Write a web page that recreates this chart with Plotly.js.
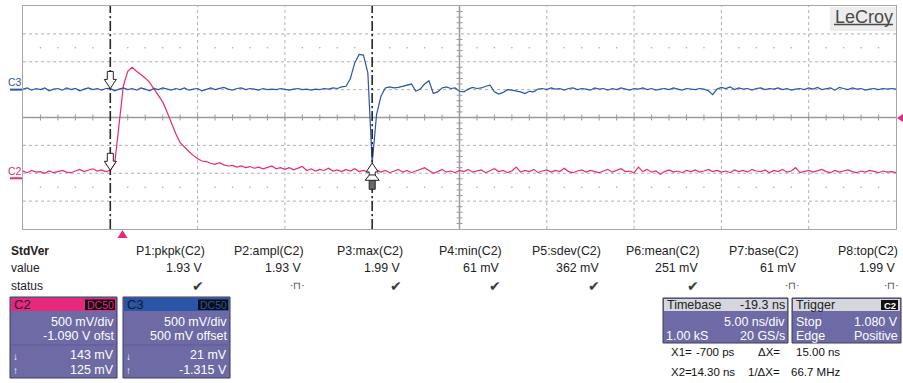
<!DOCTYPE html>
<html><head><meta charset="utf-8">
<script src="https://cdn.plot.ly/plotly-3.0.1.min.js"></script>
<style>html,body{margin:0;padding:0;background:#fff;overflow:hidden}#chart{width:903px;height:383px}</style>
</head><body><div id="chart"></div>
<script>
// ---- acquisition (timebase 5 ns/div, delay -19.3 ns -> left edge -5.7 ns)
const T_START = -5.7;      // ns
const T_STEP = 0.25;       // ns between plotted samples
const NS_PER_DIV = 5;
const V_PER_DIV = 0.5;
const C2_OFFSET = -1.09;
const C3_OFFSET = 0.5;

// C2 (pink) volts
const c2Volts = [
0.13,0.10,0.14,0.11,0.12,0.09,0.13,0.10,0.12,0.14,
0.11,0.10,0.13,0.16,0.12,0.15,0.17,0.13,0.15,0.12,
0.143,0.26,0.95,1.66,1.92,1.99,1.92,1.86,1.80,1.72,
1.61,1.50,1.37,1.19,0.98,0.80,0.64,0.55,0.48,0.41,
0.35,0.31,0.30,0.27,0.25,0.28,0.24,0.22,0.23,0.20,
0.22,0.19,0.21,0.18,0.20,0.17,0.19,0.22,0.17,0.19,
0.16,0.19,0.15,0.18,0.21,0.14,0.17,0.13,0.16,0.14,
0.18,0.13,0.15,0.12,0.16,0.13,0.17,0.12,0.14,0.11,
0.125,0.15,0.11,0.14,0.10,0.13,0.16,0.11,0.14,0.10,
0.13,0.15,0.19,0.14,0.09,0.12,0.16,0.11,0.13,0.10,
0.14,0.12,0.16,0.11,0.13,0.15,0.10,0.13,0.17,0.12,
0.14,0.10,0.13,0.20,0.11,0.14,0.12,0.16,0.10,0.13,
0.15,0.11,0.14,0.12,0.18,0.12,0.10,0.13,0.15,0.11,
0.14,0.12,0.10,0.13,0.16,0.11,0.14,0.17,0.12,0.13,
0.10,0.20,0.12,0.16,0.11,0.13,0.07,0.12,0.15,0.11,
0.13,0.10,0.14,0.12,0.15,0.11,0.13,0.16,0.12,0.14,
0.11,0.13,0.10,0.15,0.12,0.14,0.11,0.16,0.13,0.12,
0.15,0.10,0.14,0.12,0.16,0.11,0.13,0.19,0.10,0.12,
0.14,0.11,0.13,0.16,0.12,0.10,0.14,0.11,0.13,0.15,
0.12,0.10,0.13,0.11,0.14,0.12,0.10,0.13,0.11,0.12,
0.10];

// C3 (blue) volts
const c3Volts = [
0.01,0.03,-0.01,0.02,0.00,0.03,-0.02,0.01,0.02,-0.01,
0.03,0.00,0.02,-0.02,0.01,0.03,0.00,0.02,-0.01,0.02,
0.021,-0.02,0.01,0.03,0.00,0.02,-0.01,0.03,0.01,-0.02,
0.02,0.00,0.03,0.01,-0.01,0.02,0.00,0.03,-0.01,0.01,
0.02,-0.02,0.01,0.03,0.00,0.02,0.04,0.01,-0.01,0.02,
0.03,0.00,0.02,0.01,-0.01,0.02,0.00,0.01,0.00,0.02,
0.01,-0.01,0.01,0.02,0.00,0.01,-0.01,0.01,0.00,0.02,
0.01,0.03,0.02,0.05,0.06,0.20,0.48,0.63,0.62,0.30,
-1.315,-0.45,-0.12,0.03,0.05,0.03,0.04,0.06,0.08,0.10,
-0.03,0.01,0.10,0.16,-0.07,-0.04,0.03,0.05,0.02,0.03,
-0.03,-0.04,0.01,0.04,0.02,0.03,0.06,0.08,-0.04,-0.08,
-0.05,0.00,-0.01,-0.02,-0.04,-0.07,-0.03,-0.04,0.01,0.02,
0.00,0.03,0.01,0.02,-0.01,0.02,0.03,0.00,0.02,0.01,
-0.01,0.03,0.01,0.02,-0.01,0.02,0.00,0.03,0.01,-0.01,
0.02,0.01,0.03,0.00,0.02,-0.01,0.01,0.02,0.00,0.03,
0.01,-0.01,0.02,0.01,0.00,0.02,0.01,-0.02,-0.09,0.01,
0.04,0.02,0.05,0.00,0.03,0.01,0.02,-0.01,0.02,0.03,
0.00,0.02,0.01,0.03,0.00,0.02,-0.01,0.01,0.02,0.00,
0.03,0.01,0.04,0.00,0.02,0.03,-0.01,0.04,0.02,0.00,
0.03,0.01,0.02,-0.01,0.01,0.02,0.00,0.02,0.01,0.02,
0.01];

const cursorTimes = [-0.7, 14.3];
const c2CursorVolts = [0.143, 0.125];
const c3CursorVolts = [0.021, -1.315];
const triggerTime = 0;
const triggerLevel = 1.08;

const measRowLabels = ['StdVer', 'value', 'status'];
const measHeaders = ['P1:pkpk(C2)','P2:ampl(C2)','P3:max(C2)','P4:min(C2)','P5:sdev(C2)','P6:mean(C2)','P7:base(C2)','P8:top(C2)'];
const measValues = ['1.93 V','1.93 V','1.99 V','61 mV','362 mV','251 mV','61 mV','1.99 V'];
const measStatus = ['ok','pulse','ok','ok','ok','ok','pulse','pulse'];

const c2Box = ['500 mV/div', '-1.090 V ofst', '143 mV', '125 mV'];
const c3Box = ['500 mV/div', '500 mV offset', '21 mV', '-1.315 V'];
const timebaseBox = ['Timebase', '-19.3 ns', '5.00 ns/div', '1.00 kS', '20 GS/s'];
const triggerBox = ['Trigger', 'C2', 'Stop', '1.080 V', 'Edge', 'Positive'];
const cursorRow1 = ['X1=', '-700 ps', 'ΔX=', '15.00 ns'];
const cursorRow2 = ['X2=', '14.30 ns', '1/ΔX=', '66.7 MHz'];

// ---- layout helpers
const PL = 23, PT = 6, PW = 873, PH = 223;
const px = v => (v - PL) / PW;
const py = v => (PT + PH - v) / PH;
const FONT = 'Liberation Sans, Arial, sans-serif';
const PINK = '#e8287c', BLUE = '#2b55a6', BOXBG = '#6d6aa5', HDRGRAY = '#d6d6dd';

const time = c2Volts.map((_, i) => T_START + i * T_STEP);
const tEnd = T_START + 10 * NS_PER_DIV;
const tCenter = T_START + 5 * NS_PER_DIV;

const shapes = [];
const annotations = [];

function txt(x, y, text, anchor, size, color, extra) {
  annotations.push(Object.assign({xref:'paper', yref:'paper', x:px(x), y:py(y), text:text, showarrow:false,
    xanchor:anchor, yanchor:'middle', borderpad:0, font:{family:FONT, size:size, color:color}}, extra || {}));
}
function rect(x0, y0, x1, y1, fill, line) {
  shapes.push({type:'rect', xref:'paper', yref:'paper', x0:px(x0), x1:px(x1), y0:py(y1), y1:py(y0),
    fillcolor:fill, line:{color:line || 'rgba(0,0,0,0)', width: line ? 1 : 0}, layer:'above'});
}

// ---- graticule
const GRID = '#b0b0b0';
for (let k = 1; k < 10; k++) {
  const t = T_START + k * NS_PER_DIV;
  shapes.push({type:'line', xref:'x', yref:'paper', x0:t, x1:t, y0:0, y1:1,
    line:{color: k === 5 ? '#9a9a9a' : GRID, width: k === 5 ? 1.5 : 1, dash: k === 5 ? 'solid' : 'dot'}, layer:'below'});
}
for (let k = 1; k < 8; k++) {
  shapes.push({type:'line', xref:'paper', yref:'paper', x0:0, x1:1, y0:k/8, y1:k/8,
    line:{color: k === 4 ? '#9a9a9a' : GRID, width: k === 4 ? 1.5 : 1, dash: k === 4 ? 'solid' : 'dot'}, layer:'below'});
}
for (let j = 1; j < 50; j++) {
  const t = T_START + j * NS_PER_DIV / 5;
  shapes.push({type:'line', xref:'x', yref:'paper', x0:t, x1:t, ysizemode:'pixel', yanchor:0.5, y0:-3, y1:3,
    line:{color:'#9a9a9a', width:1}, layer:'below'});
  if (j % 5 !== 0) {
    [0.5 + 2.5/8, 0.5 - 2.5/8].forEach(yy => {
      shapes.push({type:'circle', xref:'x', yref:'paper', xsizemode:'pixel', ysizemode:'pixel', xanchor:t, yanchor:yy,
        x0:-0.8, x1:0.8, y0:-0.8, y1:0.8, fillcolor:'#a8a8a8', line:{width:0}, layer:'below'});
    });
  }
}
for (let j = 1; j < 40; j++) {
  if (j % 5 === 0) continue;
  shapes.push({type:'line', xref:'x', yref:'paper', xsizemode:'pixel', xanchor:tCenter, x0:-3, x1:3, y0:j/40, y1:j/40,
    line:{color:'#9a9a9a', width:1}, layer:'below'});
}

// ---- cursors
cursorTimes.forEach(t => {
  shapes.push({type:'line', xref:'x', yref:'paper', x0:t, x1:t, y0:0, y1:1,
    line:{color:'#2a2a2a', width:1.6, dash:'10px,3px,2px,3px'}, layer:'above'});
});
const downArrow = 'M 0 0 L -6 9 L -3 9 L -3 17 L 3 17 L 3 9 L 6 9 Z';
shapes.push({type:'path', xref:'x', yref:'y2', xsizemode:'pixel', ysizemode:'pixel', xanchor:cursorTimes[0], yanchor:c3CursorVolts[0],
  path:downArrow, fillcolor:'#ffffff', line:{color:'#222', width:1}, layer:'above'});
shapes.push({type:'path', xref:'x', yref:'y', xsizemode:'pixel', ysizemode:'pixel', xanchor:cursorTimes[0], yanchor:c2CursorVolts[0],
  path:downArrow, fillcolor:'#ffffff', line:{color:'#222', width:1}, layer:'above'});
shapes.push({type:'path', xref:'x', yref:'y', xsizemode:'pixel', ysizemode:'pixel', xanchor:cursorTimes[1], yanchor:c2CursorVolts[1],
  path:'M -3 -8 L -3 -18 L 3 -18 L 3 -8 Z', fillcolor:'#6a6a6a', line:{color:'#222', width:1}, layer:'above'});
shapes.push({type:'path', xref:'x', yref:'y', xsizemode:'pixel', ysizemode:'pixel', xanchor:cursorTimes[1], yanchor:c2CursorVolts[1],
  path:'M 0 0 L -7 -9 L 7 -9 Z', fillcolor:'#ffffff', line:{color:'#222', width:1}, layer:'above'});
shapes.push({type:'path', xref:'x', yref:'y2', xsizemode:'pixel', ysizemode:'pixel', xanchor:cursorTimes[1], yanchor:c3CursorVolts[1],
  path:'M 0 0 L -6 -9 L -3 -9 L -3 -12 L 3 -12 L 3 -9 L 6 -9 Z', fillcolor:'#ffffff', line:{color:'#222', width:1}, layer:'above'});

// ---- trigger markers
shapes.push({type:'path', xref:'x', yref:'paper', xsizemode:'pixel', ysizemode:'pixel', xanchor:triggerTime, yanchor:0,
  path:'M 0 -1 L -5 -9 L 5 -9 Z', fillcolor:PINK, line:{width:0}, layer:'above'});
shapes.push({type:'path', xref:'paper', yref:'y', xsizemode:'pixel', ysizemode:'pixel', xanchor:1, yanchor:triggerLevel,
  path:'M 1 0 L 7 4 L 7 -4 Z', fillcolor:PINK, line:{width:0}, layer:'above'});

// ---- channel ground markers
shapes.push({type:'line', xref:'paper', yref:'y2', xsizemode:'pixel', xanchor:0, x0:-13, x1:-1, y0:0, y1:0, line:{color:BLUE, width:2}});
shapes.push({type:'line', xref:'paper', yref:'y', xsizemode:'pixel', xanchor:0, x0:-13, x1:-1, y0:0, y1:0, line:{color:PINK, width:2}});
annotations.push({xref:'paper', yref:'y2', x:px(15), y:0, yshift:8, text:'C3', showarrow:false, xanchor:'center', yanchor:'middle',
  font:{family:FONT, size:10.5, color:BLUE}});
annotations.push({xref:'paper', yref:'y', x:px(15), y:0, yshift:7, text:'C2', showarrow:false, xanchor:'center', yanchor:'middle',
  font:{family:FONT, size:10.5, color:PINK}});

// ---- LeCroy logo
rect(830, 7, 896, 31, '#ededed');
txt(863.5, 16.5, 'LeCroy', 'center', 18, '#4a4a4a');
shapes.push({type:'line', xref:'paper', yref:'paper', x0:px(834), x1:px(893), y0:py(24.5), y1:py(24.5), line:{color:'#4a4a4a', width:1.3}, layer:'above'});

// ---- measurement table
txt(10, 251, '<b>' + measRowLabels[0] + '</b>', 'left', 12, '#222');
txt(10, 268, measRowLabels[1], 'left', 12, '#222');
txt(10, 286, measRowLabels[2], 'left', 12, '#222');
measHeaders.forEach((h, k) => {
  const xr = 206 + k * 99;
  txt(xr, 251, h, 'right', 12.4, '#222');
  txt(xr - 2, 268, measValues[k], 'right', 12.4, '#222');
  if (measStatus[k] === 'ok') txt(xr - 8, 285.5, '✔', 'center', 14, '#3a3a3a');
  else txt(xr - 8, 285.5, '·⊓·', 'center', 10, '#444');
});

// ---- channel boxes
function chanBox(x0, col, name, badgeText, rows) {
  rect(x0, 297, x0 + 107, 378, BOXBG, '#3c3a58');
  rect(x0 + 1, 298, x0 + 106, 311, col);
  rect(x0 + 75, 299.5, x0 + 105, 310, '#0d0d14');
  txt(x0 + 3, 304.5, name, 'left', 13, '#15152a');
  txt(x0 + 90, 305, badgeText, 'center', 10.5, col);
  txt(x0 + 105, 322, rows[0], 'right', 12.5, '#ffffff');
  txt(x0 + 105, 336, rows[1], 'right', 12.5, '#ffffff');
  shapes.push({type:'line', xref:'paper', yref:'paper', x0:px(x0 + 2), x1:px(x0 + 105), y0:py(345), y1:py(345), line:{color:'#5d5a92', width:1}, layer:'above'});
  txt(x0 + 105, 355, rows[2], 'right', 12.5, '#ffffff');
  txt(x0 + 105, 369.5, rows[3], 'right', 12.5, '#ffffff');
  txt(x0 + 5, 356.5, '↓', 'center', 10, '#ffffff');
  txt(x0 + 5, 370.5, '↑', 'center', 10, '#ffffff');
}
chanBox(10, PINK, 'C2', 'DC50', c2Box);
chanBox(123, BLUE, 'C3', 'DC50', c3Box);

// ---- timebase / trigger boxes
rect(663, 298, 788, 343, BOXBG, '#3c3a58');
rect(664, 299, 787, 311, HDRGRAY);
txt(666, 305, timebaseBox[0], 'left', 12.5, '#222');
txt(786, 305, timebaseBox[1], 'right', 12.5, '#222');
txt(786, 322, timebaseBox[2], 'right', 12.5, '#ffffff');
txt(665, 336, timebaseBox[3], 'left', 12.5, '#ffffff');
txt(786, 336, timebaseBox[4], 'right', 12.5, '#ffffff');

rect(792, 298, 901, 343, BOXBG, '#3c3a58');
rect(793, 299, 900, 311, HDRGRAY);
txt(795, 305, triggerBox[0], 'left', 12.5, '#222');
rect(881, 300, 898, 310, '#111');
txt(889.5, 305, '<b>' + triggerBox[1] + '</b>', 'center', 9.5, '#ffffff');
txt(795, 322, triggerBox[2], 'left', 12.5, '#ffffff');
txt(899, 322, triggerBox[3], 'right', 12.5, '#ffffff');
txt(795, 336, triggerBox[4], 'left', 12.5, '#ffffff');
txt(899, 336, triggerBox[5], 'right', 12.5, '#ffffff');

// ---- cursor readouts
[[cursorRow1, 352], [cursorRow2, 371.5]].forEach(([row, y]) => {
  txt(670, y, row[0], 'left', 11.5, '#111');
  txt(736, y, row[1], 'right', 11.5, '#111');
  txt(781, y, row[2], 'right', 11.5, '#111');
  txt(841, y, row[3], 'right', 11.5, '#111');
});

// ---- traces
const traces = [
  {x: time, y: c3Volts, yaxis:'y2', type:'scatter', mode:'lines', line:{color:BLUE, width:1.2}, hoverinfo:'skip'},
  {x: time, y: c2Volts, yaxis:'y', type:'scatter', mode:'lines', line:{color:PINK, width:1.2}, hoverinfo:'skip'}
];

const c2Center = -C2_OFFSET, c3Center = -C3_OFFSET;
const layout = {
  width: 903, height: 383,
  margin: {l: PL, r: 903 - PL - PW, t: PT, b: 383 - PT - PH, pad: 0},
  paper_bgcolor: '#ffffff', plot_bgcolor: '#ffffff',
  showlegend: false,
  xaxis: {range: [T_START, tEnd], showgrid:false, zeroline:false, showticklabels:false, ticks:'',
          showline:true, mirror:true, linecolor:'#a6a6a6', linewidth:1},
  yaxis: {range: [c2Center - 4 * V_PER_DIV, c2Center + 4 * V_PER_DIV], showgrid:false, zeroline:false, showticklabels:false, ticks:'',
          showline:true, mirror:true, linecolor:'#a6a6a6', linewidth:1},
  yaxis2: {range: [c3Center - 4 * V_PER_DIV, c3Center + 4 * V_PER_DIV], overlaying:'y', showgrid:false, zeroline:false,
           showticklabels:false, ticks:'', showline:false},
  shapes: shapes,
  annotations: annotations
};
Plotly.newPlot('chart', traces, layout, {displayModeBar:false, staticPlot:true});
</script>
</body></html>
